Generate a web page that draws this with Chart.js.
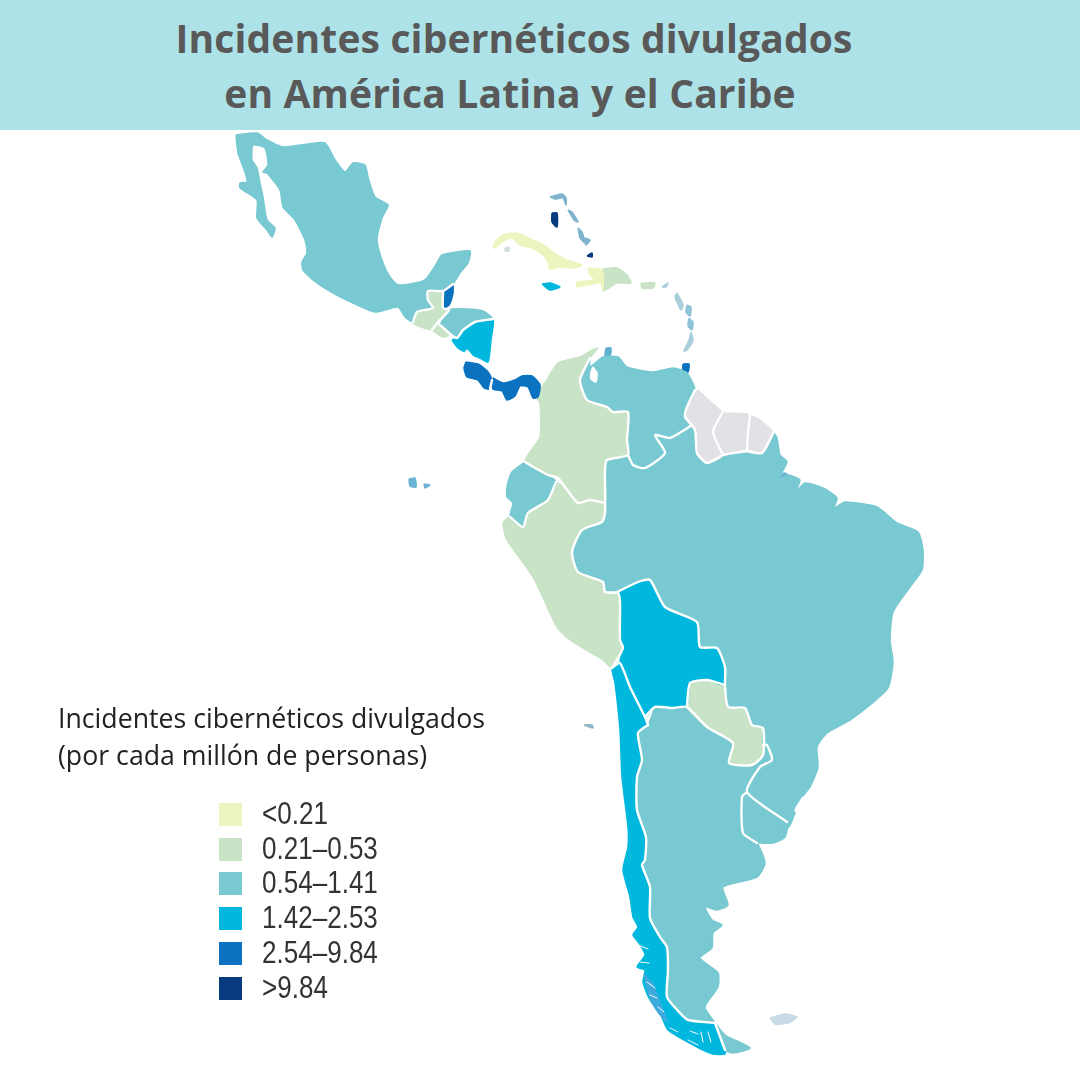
<!DOCTYPE html>
<html lang="es">
<head>
<meta charset="utf-8">
<title>Incidentes cibernéticos divulgados</title>
<script src="https://cdn.jsdelivr.net/npm/chart.js@4"></script>
<style>
  html, body { margin: 0; padding: 0; background: #fff; }
  #page { position: relative; width: 1080px; height: 1080px; overflow: hidden; }
  #mapCanvas { position: absolute; left: 0; top: 0; }
  #banner { position: absolute; left: 0; top: 0; width: 1080px; height: 130px; background: #ade3e8; }
  .titleLine { position: absolute; white-space: nowrap; transform: translateX(-50%);
    font: 700 39px "Open Sans", sans-serif; letter-spacing: 0.15px; color: #595959; }
  .subtitle { position: absolute; left: 58px; white-space: nowrap; font: 400 26.7px "Open Sans", sans-serif; color: #222; }
  .swatch { position: absolute; left: 219px; width: 23px; height: 23px; }
  .binLabel { position: absolute; left: 262px; white-space: nowrap; transform: scaleX(0.84); transform-origin: left center;
    font: 400 31px "Liberation Sans", sans-serif; color: #333; }
</style>
</head>
<body>
<div id="page">
  <canvas id="mapCanvas" width="1080" height="1080"></canvas>
  <div id="banner"></div>
  <div class="titleLine" style="left:514px;top:11px">Incidentes cibernéticos divulgados</div>
  <div class="titleLine" style="left:510px;top:66px">en América Latina y el Caribe</div>
  <div class="subtitle" style="top:699px">Incidentes cibernéticos divulgados</div>
  <div class="subtitle" style="top:736px">(por cada millón de personas)</div>
  <div id="legend"></div>
</div>
<script>
// Legend bins
const binLabels = ["<0.21", "0.21–0.53", "0.54–1.41", "1.42–2.53", "2.54–9.84", ">9.84"];
const binColors = ["#eef4c0", "#c9e3c6", "#78c9d1", "#00b8de", "#0a72bf", "#073a7e"];
const noDataColor = "#e2e2e6";

// Border shared by Chile and Argentina, north to south
const chileArgentinaBorder = [[648,725],[638,733],[642,760],[637,777],[637,810],[646,837],[645,860],[642,865],[650,887],[650,918],[660,937],[667,947],[668,970],[667,997],[680,1013],[688,1020],[715,1023]];

const mexico = [[236,135],[257,133],[267,140],[283,147],[308,144],[325,143],[335,160],[345,172],[353,163],[365,165],[368,177],[375,197],[388,205],[382,218],[377,240],[383,263],[390,277],[398,285],[420,282],[427,278],[437,263],[442,255],[470,251],[468,263],[460,273],[453,284],[443,291],[428,291],[428,300],[433,308],[417,312],[413,322],[405,317],[398,307],[375,312],[353,303],[333,293],[317,283],[303,270],[302,262],[307,253],[305,240],[295,220],[283,207],[280,190],[267,173],[263,172],[268,165],[265,148],[253,145],[252,160],[257,168],[260,183],[263,197],[267,220],[275,228],[272,237],[267,230],[257,218],[257,200],[240,188],[240,183],[247,182],[245,172],[238,153]];
const guatemala = [[428,291],[443,291],[443,308],[449,310],[438,322],[432,330],[413,323],[417,312],[433,308],[428,300]];
const belize = [[453,284],[443,291],[443,308],[449,305],[453,293]];
const elSalvador = [[432,330],[440,325],[450,334],[443,337]];
const honduras = [[440,325],[449,310],[467,309],[483,311],[493,319],[475,322],[463,330],[457,338],[450,334]];
const nicaragua = [[452,340],[457,338],[463,330],[475,322],[493,319],[491,340],[488,362],[480,358],[467,353],[458,348]];
const costaRica = [[466,362],[478,364],[488,372],[492,380],[490,389],[484,388],[478,380],[467,377],[464,368]];
const panama = [[493,378],[503,383],[515,380],[522,376],[532,376],[540,385],[538,397],[533,398],[528,387],[520,386],[515,396],[507,400],[502,391],[493,389]];
const cuba = [[493,248],[495,242],[503,235],[517,233],[528,238],[540,243],[548,248],[557,255],[567,260],[582,265],[573,268],[560,267],[550,269],[548,262],[543,255],[532,248],[520,245],[512,238],[502,242],[495,248]];
const jamaica = [[542,284],[550,283],[560,287],[550,290]];
const haiti = [[588,268],[602,270],[603,290],[600,283],[577,287],[577,282],[595,280],[590,275]];
const dominicanRep = [[603,269],[617,268],[627,275],[631,283],[617,283],[603,291]];
const puertoRico = [[641,283],[655,283],[653,288],[642,288]];
const colombia = [[598,348],[590,358],[580,380],[587,400],[607,407],[613,412],[628,412],[627,440],[628,455],[607,460],[605,470],[605,503],[590,500],[578,503],[565,487],[558,478],[548,475],[525,462],[530,452],[540,437],[540,403],[537,398],[540,390],[545,383],[558,363],[580,357],[592,350]];
const venezuela = [[590,358],[590,367],[603,357],[618,357],[627,367],[653,372],[673,368],[687,373],[695,390],[687,407],[685,417],[692,425],[670,438],[655,435],[665,453],[645,468],[633,465],[628,455],[627,440],[628,412],[613,412],[607,407],[587,400],[580,380],[583,367]];
const lakeMaracaibo = [[593,367],[597,373],[596,382],[591,379],[591,372]];
const lakeNicaragua = [[467,350],[475,360],[472,360],[465,353]];
const ecuador = [[525,462],[548,475],[556,482],[548,500],[528,513],[523,527],[510,517],[513,503],[507,497],[507,487],[512,472]];
const peru = [[556,482],[565,487],[578,503],[590,500],[605,503],[605,513],[602,522],[582,530],[572,552],[578,572],[603,582],[605,592],[618,593],[620,603],[620,640],[623,648],[612,668],[603,660],[570,640],[557,627],[533,577],[507,540],[503,523],[510,517],[523,527],[528,513],[548,500]];
const guyana = [[698,390],[712,403],[722,413],[713,432],[723,455],[707,463],[697,453],[695,430],[685,417],[690,403]];
const suriname = [[722,413],[750,415],[748,433],[747,451],[733,453],[723,455],[713,432]];
const frenchGuiana = [[750,415],[760,420],[773,433],[762,453],[747,451],[748,433]];
const brazil = [[692,425],[685,417],[695,430],[697,453],[707,463],[723,455],[733,453],[747,451],[762,453],[773,433],[777,438],[780,455],[787,462],[778,480],[788,475],[800,480],[795,493],[805,483],[823,488],[837,498],[834,508],[845,502],[877,507],[897,523],[918,532],[923,550],[922,570],[910,587],[893,612],[890,640],[893,662],[888,688],[870,705],[850,720],[827,733],[817,747],[818,767],[810,787],[800,800],[787,828],[747,792],[760,767],[772,760],[767,745],[763,745],[763,728],[752,725],[745,708],[728,707],[725,685],[725,667],[717,648],[700,647],[697,622],[665,607],[650,580],[638,582],[615,593],[605,592],[603,582],[578,572],[572,552],[582,530],[602,522],[605,513],[605,470],[607,460],[628,455],[633,465],[645,468],[665,453],[655,435],[670,438]];
const lagoaDosPatos = [[803,797],[806,800],[798,813],[795,810]];
const bolivia = [[615,593],[638,582],[650,580],[665,607],[697,622],[700,647],[717,648],[725,667],[725,685],[707,680],[690,683],[687,705],[673,708],[655,707],[645,717],[630,687],[620,663],[623,648],[620,640],[620,603]];
const paraguay = [[690,683],[707,680],[725,685],[728,707],[745,708],[752,725],[763,728],[763,755],[752,765],[729,763],[733,743],[707,727],[687,707]];
const uruguay = [[747,792],[787,822],[785,837],[773,843],[753,842],[743,833],[742,797]];
const argentinaEast = [[655,707],[673,708],[687,707],[707,727],[733,743],[729,763],[752,765],[763,755],[763,745],[767,745],[772,760],[760,767],[747,792],[742,797],[743,833],[757,843],[765,863],[757,877],[723,887],[728,905],[717,910],[705,907],[712,920],[722,925],[713,933],[712,948],[700,958],[718,973],[718,987],[705,1007],[715,1023]];
const argentina = argentinaEast.concat(chileArgentinaBorder.slice().reverse());
const tierraDelFuegoAr = [[715,1023],[725,1035],[750,1048],[733,1053],[725,1050]];
const chileCoast = [[725,1050],[725,1054],[713,1054],[697,1047],[668,1030],[660,1013],[650,1000],[643,982],[645,970],[637,967],[645,955],[639,943],[633,935],[638,927],[633,917],[630,897],[623,870],[628,847],[628,827],[622,777],[620,730],[615,683],[612,668],[620,663],[630,687],[645,717]];
const chile = chileArgentinaBorder.concat(chileCoast);
const chileIslands = [[644,974],[653,984],[660,1003],[667,1022],[658,1012],[650,998]];

// Small islands
const isleOfYouth = [[505,248],[509,247],[509,251],[505,251]];
const andros = [[552,213],[557,213],[557,227],[552,222]];
const inagua = [[587,256],[592,253],[592,257]];
const trinidad = [[683,364],[689,364],[688,372],[683,370]];
const falklands = [[770,1018],[785,1014],[797,1017],[788,1023],[775,1024]];
const galapagos = [[409,479],[415,478],[416,487],[410,486]];
const galapagosEast = [[424,484],[430,485],[425,488]];
const amazonMouth = [[778,480],[784,473],[788,475],[782,482]];
const juanFernandez = [[584,725],[592,725],[593,728]];
const bahamasNorth = [[550,197],[562,194],[566,198],[566,205],[563,198],[555,199]];
const bahamasCay = [[568,210],[572,212],[578,222],[574,220]];
const bahamasExuma = [[578,228],[582,232],[585,243],[580,238]];
const bahamasLong = [[585,238],[590,240],[586,245]];
const aruba = [[606,348],[611,348],[610,356],[605,356]];
const lesserNorth = [[662,287],[668,283],[666,287]];
const lesserEast = [[677,293],[683,305],[681,310],[675,297]];
const guadeloupe = [[687,305],[691,307],[690,316],[686,312]];
const martinique = [[689,318],[693,322],[692,330],[688,326]];
const lesserSouth = [[691,332],[693,340],[687,350],[684,351],[689,340]];

// Land borders, drawn white over the fills
const borderLines = [
  [[453,284],[443,291],[428,291],[428,300],[433,308],[417,312],[413,322]],
  [[443,291],[443,308],[449,310],[438,322],[432,330]],
  [[440,325],[450,334],[457,338],[463,330],[475,322],[493,319]],
  [[492,380],[490,389]],
  [[590,358],[580,380],[587,400],[607,407],[613,412],[628,412],[627,440],[628,455],[607,460],[605,470],[605,513],[602,522],[582,530],[572,552],[578,572],[603,582],[605,592],[618,593],[620,603],[620,640],[623,648],[612,668]],
  [[605,503],[590,500],[578,503],[565,487],[558,478],[548,475],[525,462]],
  [[556,482],[548,500],[528,513],[523,527],[510,517]],
  [[628,455],[633,465],[645,468],[665,453],[655,435],[670,438],[692,425]],
  [[695,390],[687,407],[685,417],[692,425]],
  [[685,417],[695,430],[697,453],[707,463],[723,455],[733,453],[747,451],[762,453],[773,433]],
  [[722,413],[713,432],[723,455]],
  [[750,415],[748,433],[747,451]],
  [[615,593],[638,582],[650,580],[665,607],[697,622],[700,647],[717,648],[725,667],[725,685],[728,707],[745,708],[752,725],[763,728],[763,755],[752,765],[729,763],[733,743],[707,727],[687,707],[673,708],[655,707],[645,717]],
  [[725,685],[707,680],[690,683],[687,707]],
  [[612,668],[620,663],[630,687],[645,717],[648,725]],
  [[763,745],[767,745],[772,760],[760,767],[747,792],[787,822]],
  [[747,792],[742,797],[743,833],[757,843]],
  [[715,1023],[725,1050]],
  chileArgentinaBorder,
];
// Fjords in southern Chile
const fjordLines = [
  [[638,945],[648,949]], [[640,962],[649,963]], [[647,982],[655,988]], [[650,995],[657,998]],
  [[658,1007],[664,1012]], [[670,1028],[678,1032]], [[690,1031],[698,1034]], [[701,1032],[703,1042]],
  [[708,1032],[711,1042]], [[688,1040],[698,1045]],
];

const whiteAreas = [
  ["Lago de Maracaibo", lakeMaracaibo],
  ["Lago de Nicaragua", lakeNicaragua],
  ["Lagoa dos Patos", lagoaDosPatos],
];
const landAreas = [
  ["Islas de Chile", chileIslands, "#3fa9dc"],
  ["México", mexico, binColors[2]],
  ["Guatemala", guatemala, binColors[1]],
  ["Belice", belize, binColors[4]],
  ["El Salvador", elSalvador, binColors[1]],
  ["Honduras", honduras, binColors[2]],
  ["Nicaragua", nicaragua, binColors[3]],
  ["Costa Rica", costaRica, binColors[4]],
  ["Panamá", panama, binColors[4]],
  ["Cuba", cuba, binColors[0]],
  ["Jamaica", jamaica, binColors[3]],
  ["Haití", haiti, binColors[0]],
  ["República Dominicana", dominicanRep, binColors[1]],
  ["Puerto Rico", puertoRico, binColors[1]],
  ["Colombia", colombia, binColors[1]],
  ["Venezuela", venezuela, binColors[2]],
  ["Ecuador", ecuador, binColors[2]],
  ["Perú", peru, binColors[1]],
  ["Guyana", guyana, noDataColor],
  ["Surinam", suriname, noDataColor],
  ["Guayana Francesa", frenchGuiana, noDataColor],
  ["Brasil", brazil, binColors[2]],
  ["Bolivia", bolivia, binColors[3]],
  ["Paraguay", paraguay, binColors[1]],
  ["Uruguay", uruguay, binColors[2]],
  ["Argentina", argentina, binColors[2]],
  ["Tierra del Fuego", tierraDelFuegoAr, binColors[2]],
  ["Chile", chile, binColors[3]],
];
const islandAreas = [
  ["Isla de la Juventud", isleOfYouth, "#d5dedd"],
  ["Andros", andros, binColors[5]],
  ["Inagua", inagua, binColors[5]],
  ["Trinidad y Tobago", trinidad, binColors[4]],
  ["Malvinas", falklands, "#c8dbe6"],
  ["Galápagos", galapagos, "#6db4d4"],
  ["Galápagos este", galapagosEast, "#6db4d4"],
  ["Amazonas", amazonMouth, "#6db4d4"],
  ["Juan Fernández", juanFernandez, "#8fb4c4"],
  ["Bahamas norte", bahamasNorth, "#7fb4cc"],
  ["Bahamas cayos", bahamasCay, "#7fb4cc"],
  ["Exuma", bahamasExuma, "#7fb4cc"],
  ["Long Island", bahamasLong, "#7fb4cc"],
  ["Aruba", aruba, "#5fb0d0"],
  ["Antillas norte", lesserNorth, "#a9cfdc"],
  ["Antillas este", lesserEast, "#a9cfdc"],
  ["Guadalupe", guadeloupe, "#8fc3d6"],
  ["Martinica", martinique, "#8fc3d6"],
  ["Antillas sur", lesserSouth, "#a9cfdc"],
];

const curve = 0.2;

function toPoints(line) {
  return line.map((p) => ({ x: p[0], y: p[1] }));
}

function areaDataset(area, color) {
  return {
    label: area[0],
    data: toPoints(area[1].concat([area[1][0]])),
    showLine: true,
    fill: "shape",
    tension: curve,
    backgroundColor: color,
    borderColor: color,
    borderWidth: 1.5,
    borderJoinStyle: "round",
    pointRadius: 0,
  };
}

function lineDataset(line, width) {
  return {
    data: toPoints(line),
    showLine: true,
    fill: false,
    tension: curve,
    borderColor: "#ffffff",
    borderWidth: width,
    borderJoinStyle: "round",
    borderCapStyle: "round",
    pointRadius: 0,
  };
}

// First dataset ends up on top
new Chart(document.getElementById("mapCanvas").getContext("2d"), {
  type: "scatter",
  data: {
    datasets: borderLines.map((l) => lineDataset(l, 2.4))
      .concat(fjordLines.map((l) => lineDataset(l, 1)))
      .concat(whiteAreas.map((a) => areaDataset(a, "#ffffff")))
      .concat(landAreas.map((a) => areaDataset(a, a[2])))
      .concat(islandAreas.map((a) => areaDataset(a, a[2]))),
  },
  options: {
    responsive: false,
    animation: false,
    layout: { padding: 0 },
    plugins: { legend: { display: false }, tooltip: { enabled: false } },
    scales: {
      x: { type: "linear", min: 0, max: 1080, display: false },
      y: { type: "linear", min: 0, max: 1080, reverse: true, display: false },
    },
  },
});

// HTML legend built from the bins
const legendBox = document.getElementById("legend");
binLabels.forEach((label, i) => {
  const top = 803 + i * 34.7;
  const swatch = document.createElement("div");
  swatch.className = "swatch";
  swatch.style.top = top + "px";
  swatch.style.background = binColors[i];
  const text = document.createElement("div");
  text.className = "binLabel";
  text.style.top = top - 7 + "px";
  text.textContent = label;
  legendBox.appendChild(swatch);
  legendBox.appendChild(text);
});
</script>
</body>
</html>
